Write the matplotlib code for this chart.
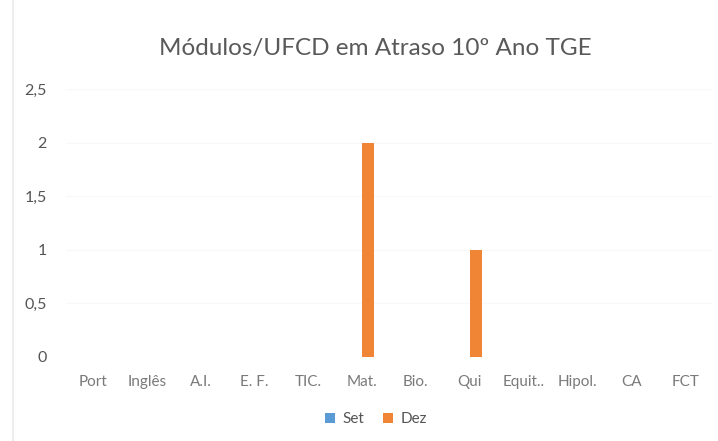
import matplotlib.pyplot as plt
import numpy as np
from matplotlib.lines import Line2D

# chart data
categories = ['Port', 'Inglês', 'A.I.', 'E. F.', 'TIC.', 'Mat.', 'Bio.',
              'Qui', 'Equit..', 'Hipol.', 'CA', 'FCT']
set_vals = [0, 0, 0, 0, 0, 0, 0, 0, 0, 0, 0, 0]
dez_vals = [0, 0, 0, 0, 0, 2, 0, 1, 0, 0, 0, 0]
y_ticks = [0, 0.5, 1, 1.5, 2, 2.5]
y_labels = ['0', '0,5', '1', '1,5', '2', '2,5']

plt.rcParams['font.family'] = ['Lato', 'DejaVu Sans']

fig = plt.figure(figsize=(7.18, 4.41), dpi=100)
ax = fig.add_axes([66 / 718, 1 - 357 / 441, (712 - 66) / 718, (357 - 89) / 441])

x = np.arange(len(categories))
w = 0.22
ax.bar(x - w / 2, set_vals, w, color='#5B9BD5', label='Set', zorder=3)
ax.bar(x + w / 2, dez_vals, w, color='#F08536', label='Dez', zorder=3)

ax.set_xlim(-0.5, len(categories) - 0.5)
ax.set_ylim(0, 2.5)
ax.set_yticks(y_ticks)
ax.set_yticklabels(y_labels)
ax.set_xticks(x)
ax.set_xticklabels(categories)
ax.grid(axis='y', color='#F8F8F8', linewidth=0.8, zorder=0)
for s in ax.spines.values():
    s.set_visible(False)
ax.tick_params(axis='both', length=0, labelsize=11, colors='#7A7A7A')
ax.tick_params(axis='y', pad=14, labelcolor='#555555', labelsize=11.5)
ax.tick_params(axis='x', pad=13)

fig.text(375 / 718, 1 - 48 / 441, 'Módulos/UFCD em Atraso 10º Ano TGE',
         ha='center', va='center', fontsize=17.5, color='#595959')

ax.legend(loc='center', bbox_to_anchor=(376 / 718, 1 - 419 / 441),
          bbox_transform=fig.transFigure, ncol=2, frameon=False,
          fontsize=11, handlelength=0.65, handleheight=0.65,
          columnspacing=1.2, handletextpad=0.5, labelcolor='#555555')

# faint chart border on the left
fig.add_artist(Line2D([13 / 718, 13 / 718], [0, 1], color='#EEEEEE', linewidth=1.5))

fig.savefig('out.png', dpi=100)
